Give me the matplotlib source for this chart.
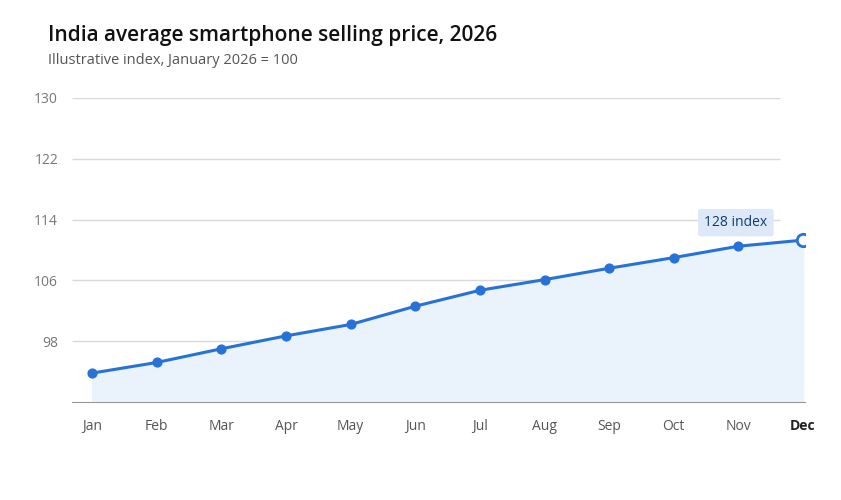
import matplotlib
matplotlib.use("Agg")
import matplotlib.pyplot as plt

months = ["Jan","Feb","Mar","Apr","May","Jun","Jul","Aug","Sep","Oct","Nov","Dec"]
values = [93.8, 95.2, 97.0, 98.7, 100.2, 102.6, 104.7, 106.1, 107.6, 109.0, 110.5, 111.3]
yticks = [98, 106, 114, 122, 130]

plt.rcParams['font.family'] = ['Open Sans', 'DejaVu Sans']
fig = plt.figure(figsize=(8.41, 5), dpi=100)
ax = fig.add_axes([72/841, 1-402/500, (805-72)/841, (402-98)/500])
x = list(range(len(months)))
ax.set_xlim(-0.31, 11.03)
ax.set_ylim(90, 130)
ax.hlines(yticks, -0.31, 10.65, color="#d9d9d9", lw=1, zorder=0)
ax.fill_between(x, values, 90, color="#eaf2fb", zorder=1)
ax.plot(x, values, color="#2672d6", lw=2.2, zorder=3)
ax.scatter(x[:-1], values[:-1], s=40, color="#2672d6", zorder=4)
ax.scatter([x[-1]], [values[-1]], s=80, facecolor="white", edgecolor="#2672d6", lw=2, zorder=5)
ax.text(9.96, 113.6, "128 index", ha="center", va="center", fontsize=10, color="#0f3d73",
        bbox=dict(boxstyle="round,pad=0.45,rounding_size=0.2", fc="#dde9f8", ec="none"), zorder=6)
for s in ["top", "right", "left"]:
    ax.spines[s].set_visible(False)
ax.spines["bottom"].set_color("#999999")
ax.set_yticks(yticks)
ax.set_yticklabels([str(v) for v in yticks], color="#777777", fontsize=10)
ax.set_xticks(x)
ax.set_xticklabels(months, color="#555555", fontsize=10)
ax.get_xticklabels()[-1].set_fontweight("bold")
ax.get_xticklabels()[-1].set_color("#222222")
ax.tick_params(length=0, pad=12)
ax.tick_params(axis="y", pad=10)
fig.text(48/841, 1-35/500, "India average smartphone selling price, 2026", fontsize=15,
         fontweight="semibold", color="#111111", va="center")
fig.text(48/841, 1-60/500, "Illustrative index, January 2026 = 100", fontsize=10.5,
         color="#555555", va="center")
fig.savefig("out.png", dpi=100)
